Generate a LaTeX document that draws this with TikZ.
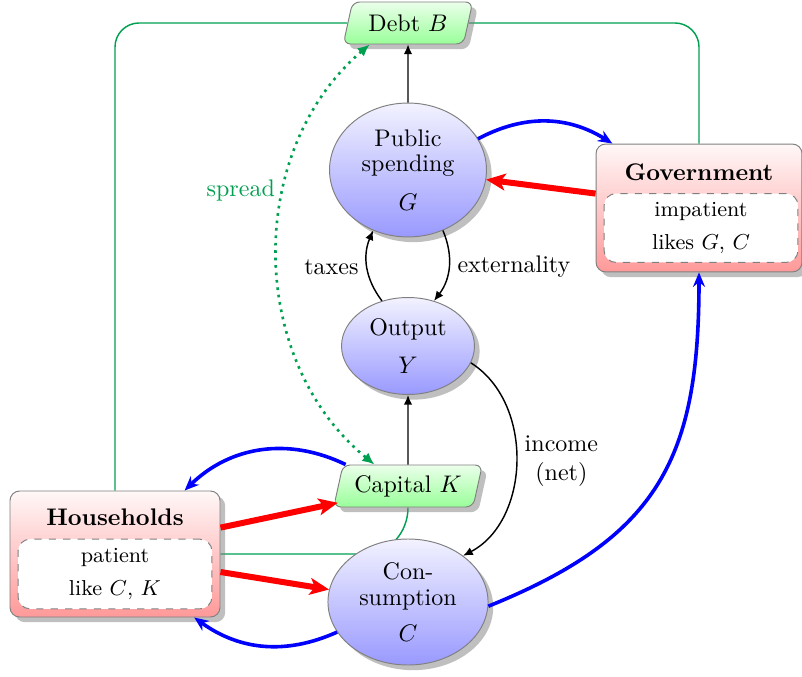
\documentclass[tikz,border=0pt]{standalone}
\definecolor{green1}{RGB}{0, 160, 80}
\usepackage{tikz}
\usetikzlibrary{shapes, arrows.meta, positioning, shadows, backgrounds}
\usepackage{amsmath, amssymb}

\begin{document}
\begin{tikzpicture}[x=0.41667pt, y=-0.41667pt,
  stock/.style={trapezium, trapezium left angle=78, trapezium right angle=102, trapezium stretches=true, rounded corners=3pt, draw=black!50, top color=green!8, bottom color=green!40, drop shadow, inner xsep=1pt, minimum height=17.5pt},
  flow/.style={ellipse, draw=black!50, top color=blue!5, bottom color=blue!40, drop shadow, align=center, inner sep=0pt},
  agent/.style={rectangle, rounded corners=4pt, draw=black!50, top color=red!3, bottom color=red!40, drop shadow},
  prefs/.style={rectangle, rounded corners=5pt, dashed, draw=black!50, fill=white, font=\small, align=center},
  link/.style={semithick, -{Latex[length=4pt, width=3.5pt]}},
  blueflow/.style={blue, line width=1.5pt, -{Stealth[length=6pt, width=5pt]}},
  redflow/.style={red, line width=2.5pt, -{Stealth[length=8pt, width=7pt, inset=2pt]}},
  greenline/.style={green1, semithick}]
  \useasboundingbox (0,0) rectangle (802,677);

  \node[stock, minimum width=54pt] (debt) at (408,23) {Debt $B$};
  \node[flow, minimum width=65.4pt, minimum height=55.8pt] (ps) at (408,170) {Public\\[-1.5pt]spending\\[4pt]$G$};
  \node[flow, minimum width=55.4pt, minimum height=40.4pt] (output) at (408,346) {Output\\[4pt]$Y$};
  \node[stock, minimum width=62pt] (cap) at (408,486) {Capital $K$};
  \node[flow, minimum width=66.7pt, minimum height=52.5pt] (cons) at (408,602) {Con-\\[-1.5pt]sumption\\[3pt]$C$};

  \node[agent, minimum width=85.8pt, minimum height=53.3pt] (gov) at (699,208) {};
  \node[font=\bfseries] (govtitle) at (699,172) {Government};
  \node[prefs, minimum width=80.8pt, minimum height=28.7pt] (govprefs) at (701,228) {impatient\\[3pt]likes $G$, $C$};

  \node[agent, minimum width=87.5pt, minimum height=52.5pt] (hh) at (115,554) {};
  \node[font=\bfseries] (hhtitle) at (115,517) {Households};
  \node[prefs, minimum width=80.8pt, minimum height=29pt] (hhprefs) at (115,574) {patient\\[3pt]like $C$, $K$};

  \begin{pgfonlayer}{background}
    \draw[greenline, rounded corners=10pt] (hh.north) |- (debt.west);
    \draw[greenline, rounded corners=10pt] (debt.east) -| (gov.north);
    \draw[greenline] (hh.east) -- ++(60pt,0) to[out=0, in=-90] (cap.south);
  \end{pgfonlayer}

  \draw[link] (ps) -- (debt);
  \draw[link] (cap) -- (output);
  \draw[link] (output.120) to[bend left=30] node[left] {taxes} (ps.-120);
  \draw[link] (ps.-60) to[bend left=30] node[right] {externality} (output.60);
  \draw[link] (output.-15) to[bend left=60] node[right, align=center] {income\\(net)} (cons.40);

  \draw[green1, line width=1.1pt, dotted, {Latex[length=5pt, width=4.5pt]}-{Latex[length=5pt, width=4.5pt]}] ([xshift=-16pt]debt.south) to[bend right=50] node[pos=0.36, left] {spread} ([xshift=-14pt]cap.north);

  \draw[blueflow] (ps.24) to[bend left=30] ([xshift=7pt]gov.north west);
  \draw[blueflow] ([xshift=-26pt]cap.north) to[bend right=35] ([xshift=29pt]hh.north);
  \draw[blueflow] (cons.203) to[bend left=30] ([xshift=33pt]hh.south);
  \draw[blueflow] (cons.-3) to[out=22, in=-90, looseness=1.2] (gov.south);

  \draw[redflow] ([yshift=6pt]gov.west) -- (ps.-7);
  \draw[redflow] ([yshift=11pt]hh.east) -- ([yshift=-7pt]cap.west);
  \draw[redflow] ([yshift=-7.5pt]hh.east) -- (cons.171);
\end{tikzpicture}
\end{document}
